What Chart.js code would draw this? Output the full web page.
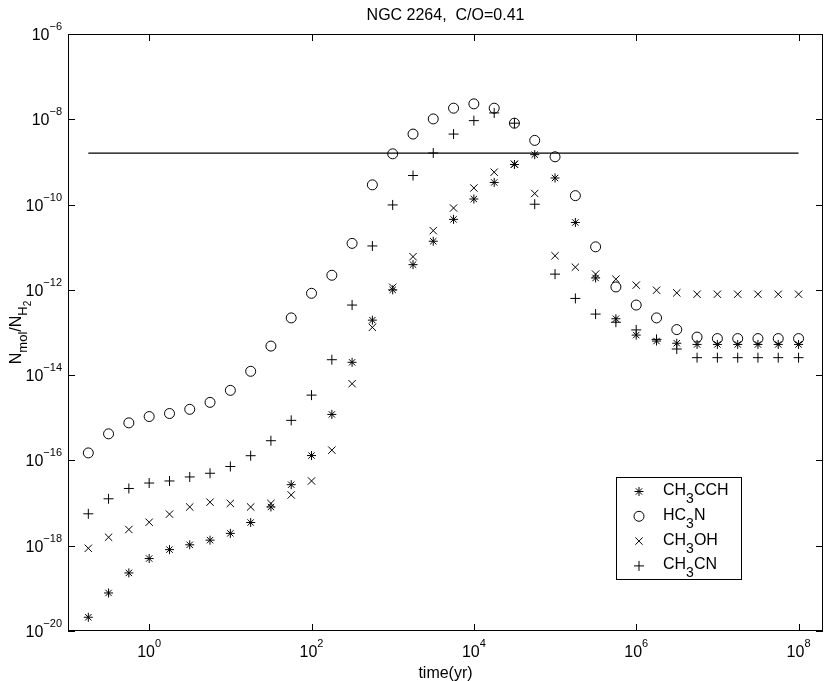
<!DOCTYPE html>
<html>
<head>
<meta charset="utf-8">
<script src="https://cdn.jsdelivr.net/npm/chart.js@4.4.0/dist/chart.umd.min.js"></script>
<style>
  html, body { margin: 0; padding: 0; background: #fff; }
  #wrap { width: 830px; height: 681px; }
</style>
</head>
<body>
<div id="wrap"><canvas id="chart" width="830" height="681"></canvas></div>
<script>
// time grid (yr), one model output every quarter decade
var times = [0.178, 0.316, 0.562, 1, 1.78, 3.16, 5.62, 10, 17.8, 31.6, 56.2, 100,
  178, 316, 562, 1e3, 1.78e3, 3.16e3, 5.62e3, 1e4, 1.78e4, 3.16e4, 5.62e4, 1e5,
  1.78e5, 3.16e5, 5.62e5, 1e6, 1.78e6, 3.16e6, 5.62e6, 1e7, 1.78e7, 3.16e7, 5.62e7, 1e8];

// abundances N_mol / N_H2
var ch3cch = [2.1e-20, 7.8e-20, 2.3e-19, 5.0e-19, 8.1e-19, 1.05e-18, 1.35e-18, 1.95e-18,
  3.5e-18, 8.1e-18, 2.7e-17, 1.3e-16, 1.2e-15, 2.0e-14, 1.95e-13, 1.0e-12, 3.9e-12,
  1.38e-11, 4.5e-11, 1.35e-10, 3.3e-10, 8.7e-10, 1.48e-9, 4.2e-10, 3.8e-11, 1.9e-12,
  2.1e-13, 8.7e-14, 6.3e-14, 5.6e-14, 5.25e-14, 5.25e-14, 5.25e-14, 5.25e-14, 5.25e-14, 5.25e-14];
var hc3n = [1.5e-16, 4.2e-16, 7.6e-16, 1.07e-15, 1.26e-15, 1.58e-15, 2.3e-15, 4.4e-15,
  1.23e-14, 4.8e-14, 2.2e-13, 8.3e-13, 2.2e-12, 1.23e-11, 2.9e-10, 1.55e-9, 4.5e-9,
  1.02e-8, 1.82e-8, 2.3e-8, 1.82e-8, 8.1e-9, 3.2e-9, 1.32e-9, 1.62e-10, 1.02e-11,
  1.17e-12, 4.4e-13, 2.2e-13, 1.17e-13, 7.8e-14, 7.2e-14, 7.2e-14, 7.2e-14, 7.2e-14, 7.2e-14];
var ch3oh = [8.7e-19, 1.58e-18, 2.4e-18, 3.55e-18, 5.5e-18, 8.1e-18, 1.05e-17, 9.8e-18,
  8.1e-18, 9.8e-18, 1.55e-17, 3.3e-17, 1.74e-16, 6.3e-15, 1.32e-13, 1.15e-12, 6.0e-12,
  2.45e-11, 8.3e-11, 2.45e-10, 5.75e-10, 8.9e-10, 1.82e-10, 6.3e-12, 3.4e-12, 2.34e-12,
  1.78e-12, 1.29e-12, 9.8e-13, 8.5e-13, 7.9e-13, 7.9e-13, 7.9e-13, 7.9e-13, 7.9e-13, 7.9e-13];
var ch3cn = [5.6e-18, 1.26e-17, 2.2e-17, 2.95e-17, 3.3e-17, 4.1e-17, 5.0e-17, 7.2e-17,
  1.29e-16, 2.9e-16, 8.7e-16, 3.4e-15, 2.3e-14, 4.4e-13, 1.07e-11, 9.8e-11, 4.8e-10,
  1.62e-9, 4.5e-9, 9.3e-9, 1.41e-8, 8.1e-9, 1.02e-10, 2.34e-12, 6.3e-13, 2.7e-13,
  1.74e-13, 1.15e-13, 6.9e-14, 4.1e-14, 2.57e-14, 2.57e-14, 2.57e-14, 2.57e-14, 2.57e-14, 2.57e-14];

// horizontal reference level
var refTimes = [0.178, 1e8];
var refLevel = [1.6e-9, 1.6e-9];

var xTicks = [1, 1e2, 1e4, 1e6, 1e8];
var yTicks = [1e-20, 1e-18, 1e-16, 1e-14, 1e-12, 1e-10, 1e-8, 1e-6];

var FONT = '"Liberation Sans", Arial, Helvetica, sans-serif';

function pairs(xs, ys) {
  return xs.map(function (x, i) { return { x: x, y: ys[i] }; });
}

// draws text pieces with sub/superscripts, each piece {text, size, dy}
function drawParts(ctx, x, y, parts, align) {
  var total = 0;
  parts.forEach(function (p) {
    ctx.font = p.size + 'px ' + FONT;
    p.w = ctx.measureText(p.text).width;
    total += p.w;
  });
  var cx = x;
  if (align === 'center') cx = x - total / 2;
  if (align === 'right') cx = x - total;
  ctx.textAlign = 'left';
  ctx.textBaseline = 'alphabetic';
  parts.forEach(function (p) {
    ctx.font = p.size + 'px ' + FONT;
    ctx.fillText(p.text, cx, y + (p.dy || 0));
    cx += p.w;
  });
}

function powerLabel(v) {
  var e = Math.round(Math.log10(v));
  return [{ text: '10', size: 16 }, { text: e < 0 ? '\u2212' + (-e) : '' + e, size: 11, dy: -10 }];
}

var series = [
  { name: [{ text: 'CH', size: 16 }, { text: '3', size: 14, dy: 8 }, { text: 'CCH', size: 16 }], data: ch3cch, style: 'star', r: 4.5 },
  { name: [{ text: 'HC', size: 16 }, { text: '3', size: 14, dy: 8 }, { text: 'N', size: 16 }], data: hc3n, style: 'circle', r: 5 },
  { name: [{ text: 'CH', size: 16 }, { text: '3', size: 14, dy: 8 }, { text: 'OH', size: 16 }], data: ch3oh, style: 'crossRot', r: 5.2 },
  { name: [{ text: 'CH', size: 16 }, { text: '3', size: 14, dy: 8 }, { text: 'CN', size: 16 }], data: ch3cn, style: 'cross', r: 5 }
];

var frame = {
  id: 'frame',
  afterDraw: function (chart) {
    var ctx = chart.ctx;
    var a = chart.chartArea;
    var xs = chart.scales.x, ys = chart.scales.y;
    ctx.save();
    ctx.strokeStyle = '#000';
    ctx.fillStyle = '#000';
    ctx.lineWidth = 1;

    // box
    ctx.strokeRect(Math.round(a.left) + 0.5, Math.round(a.top) + 0.5,
      Math.round(a.right - a.left) - 1, Math.round(a.bottom - a.top) - 1);

    // inward tick marks on all four sides
    var tl = 7;
    ctx.beginPath();
    xTicks.forEach(function (t) {
      var px = Math.round(xs.getPixelForValue(t)) + 0.5;
      ctx.moveTo(px, a.bottom); ctx.lineTo(px, a.bottom - tl);
      ctx.moveTo(px, a.top); ctx.lineTo(px, a.top + tl);
    });
    yTicks.forEach(function (t) {
      var py = Math.round(ys.getPixelForValue(t)) + 0.5;
      ctx.moveTo(a.left, py); ctx.lineTo(a.left + tl, py);
      ctx.moveTo(a.right, py); ctx.lineTo(a.right - tl, py);
    });
    ctx.stroke();

    // tick labels
    xTicks.forEach(function (t) {
      drawParts(ctx, xs.getPixelForValue(t), a.bottom + 26, powerLabel(t), 'center');
    });
    yTicks.forEach(function (t) {
      drawParts(ctx, a.left - 6, ys.getPixelForValue(t) + 6, powerLabel(t), 'right');
    });

    // axis titles and title
    drawParts(ctx, (a.left + a.right) / 2, 678, [{ text: 'time(yr)', size: 16 }], 'center');
    drawParts(ctx, (a.left + a.right) / 2, 20, [{ text: 'NGC 2264,  C/O=0.41', size: 16 }], 'center');
    ctx.save();
    ctx.translate(21, (a.top + a.bottom) / 2);
    ctx.rotate(-Math.PI / 2);
    drawParts(ctx, 0, 0, [
      { text: 'N', size: 16 }, { text: 'mol', size: 13, dy: 6 },
      { text: '/N', size: 16 }, { text: 'H', size: 13, dy: 6 }, { text: '2', size: 10, dy: 10 }
    ], 'center');
    ctx.restore();

    // legend
    var lx = 616.5, ly = 477.5, lw = 125, lh = 102;
    ctx.fillStyle = '#fff';
    ctx.fillRect(lx, ly, lw, lh);
    ctx.strokeRect(lx, ly, lw, lh);
    ctx.fillStyle = '#000';
    series.forEach(function (s, i) {
      var my = 491.5 + i * 24.8;
      ctx.save();
      ctx.fillStyle = 'rgba(0,0,0,0)';
      ctx.strokeStyle = '#000';
      ctx.lineWidth = 1;
      Chart.helpers.drawPoint(ctx, { pointStyle: s.style, radius: s.r, rotation: 0, borderWidth: 1 }, 639, my);
      ctx.restore();
      drawParts(ctx, 663, my + 3.5, s.name, 'left');
    });
    ctx.restore();
  }
};

var datasets = series.map(function (s) {
  return {
    data: pairs(times, s.data),
    pointStyle: s.style,
    pointRadius: s.r,
    pointBorderWidth: 1,
    pointBorderColor: '#000',
    pointBackgroundColor: 'rgba(0,0,0,0)',
    showLine: false
  };
});
datasets.push({
  data: pairs(refTimes, refLevel),
  showLine: true,
  borderColor: '#000',
  borderWidth: 1.2,
  pointRadius: 0
});

new Chart(document.getElementById('chart'), {
  type: 'scatter',
  data: { datasets: datasets },
  options: {
    responsive: false,
    animation: false,
    events: [],
    layout: { padding: { left: 68, top: 34, right: 7, bottom: 50 } },
    plugins: { legend: { display: false }, tooltip: { enabled: false }, title: { display: false } },
    scales: {
      x: { type: 'logarithmic', min: 0.1, max: 2e8, display: false },
      y: { type: 'logarithmic', min: 1e-20, max: 1e-6, display: false }
    }
  },
  plugins: [frame]
});
</script>
</body>
</html>
